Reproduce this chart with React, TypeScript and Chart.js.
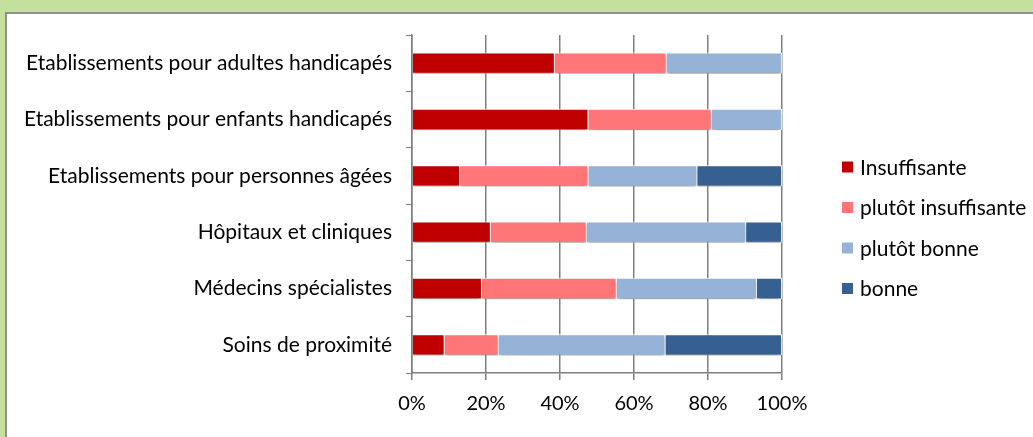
import React, { useEffect, useRef } from "react";
import { Chart, registerables } from "chart.js";

Chart.register(...registerables);

const categories = [
  "Etablissements pour adultes handicapés",
  "Etablissements pour enfants handicapés",
  "Etablissements pour personnes âgées",
  "Hôpitaux et cliniques",
  "Médecins spécialistes",
  "Soins de proximité",
];
const seriesNames = ["Insuffisante", "plutôt insuffisante", "plutôt bonne", "bonne"];
const insuffisante = [38.6, 47.7, 13.0, 21.3, 18.9, 8.8];
const plutotInsuffisante = [30.2, 33.3, 34.7, 25.9, 36.4, 14.6];
const plutotBonne = [31.2, 19.0, 29.4, 43.1, 37.9, 45.1];
const bonne = [0, 0, 22.9, 9.7, 6.8, 31.5];
const xTicks = [0, 20, 40, 60, 80, 100];
const colors = ["#c00000", "#ff7578", "#95b3d7", "#366092"];

const FONT = "Lato";

export default function App() {
  const ref = useRef<HTMLCanvasElement>(null);
  useEffect(() => {
    document.body.style.margin = "0";
    const values = [insuffisante, plutotInsuffisante, plutotBonne, bonne];
    const shadowPlugin = {
      id: "shadow",
      beforeDatasetsDraw(chart: any) {
        const ctx = chart.ctx;
        ctx.save();
        ctx.shadowColor = "rgba(0,0,0,0.35)";
        ctx.shadowBlur = 3;
        ctx.shadowOffsetX = 0;
        ctx.shadowOffsetY = 3;
      },
      afterDatasetsDraw(chart: any) {
        chart.ctx.restore();
      },
    };
    const legendPlugin = {
      id: "customLegend",
      afterDraw(chart: any) {
        const ctx = chart.ctx;
        ctx.save();
        ctx.font = `21px ${FONT}`;
        ctx.textBaseline = "middle";
        ctx.textAlign = "left";
        const x0 = chart.chartArea.right + 60;
        const y0 = 167;
        chart.data.datasets.forEach((ds: any, i: number) => {
          const y = y0 + i * 40.5;
          ctx.fillStyle = ds.backgroundColor;
          ctx.fillRect(x0, y - 5.5, 11, 11);
          ctx.fillStyle = "#000";
          ctx.fillText(ds.label, x0 + 18, y + 1);
        });
        ctx.restore();
      },
    };
    const chart = new Chart(ref.current!, {
      type: "bar",
      data: {
        labels: categories,
        datasets: seriesNames.map((name, i) => ({
          label: name,
          data: values[i],
          backgroundColor: colors[i],
          borderColor: "#ffffff",
          borderWidth: 1,
          categoryPercentage: 1,
          barPercentage: 0.38,
        })),
      },
      options: {
        indexAxis: "y",
        animation: false,
        responsive: false,
        maintainAspectRatio: false,
        layout: { padding: { left: 10, top: 35, right: 251, bottom: 14 } },
        plugins: { legend: { display: false }, tooltip: { enabled: false } },
        scales: {
          x: {
            stacked: true,
            min: 0,
            max: 100,
            afterFit: (s: any) => { s.height = 50; },
            afterBuildTicks: (s: any) => { s.ticks = xTicks.map((v) => ({ value: v })); },
            ticks: {
              callback: (v: any) => v + "%",
              font: { family: FONT, size: 20 },
              color: "#000",
              padding: 12,
            },
            grid: { color: "#7f7f7f", lineWidth: 1.5, tickLength: 7, drawTicks: true },
            border: { color: "#7f7f7f", width: 1.5 },
          },
          y: {
            stacked: true,
            afterFit: (s: any) => { s.width = 402; },
            ticks: {
              font: { family: FONT, size: 21 },
              color: "#000",
              padding: 14,
            },
            grid: { drawOnChartArea: false, color: "#7f7f7f", tickLength: 6, offset: true },
            border: { color: "#7f7f7f", width: 1.5 },
          },
        },
      },
      plugins: [shadowPlugin, legendPlugin],
    });
    return () => chart.destroy();
  }, []);
  return (
    <div style={{ position: "relative", width: 1033, height: 437, background: "#c5e09c", overflow: "hidden" }}>
      <div
        style={{
          position: "absolute",
          left: 5,
          top: 12,
          width: 1100,
          height: 500,
          background: "#fff",
          borderTop: "2px solid #8f8f8f",
          borderLeft: "2px solid #8f8f8f",
        }}
      />
      <canvas ref={ref} width={1033} height={437} style={{ position: "absolute", left: 0, top: 0 }} />
    </div>
  );
}
